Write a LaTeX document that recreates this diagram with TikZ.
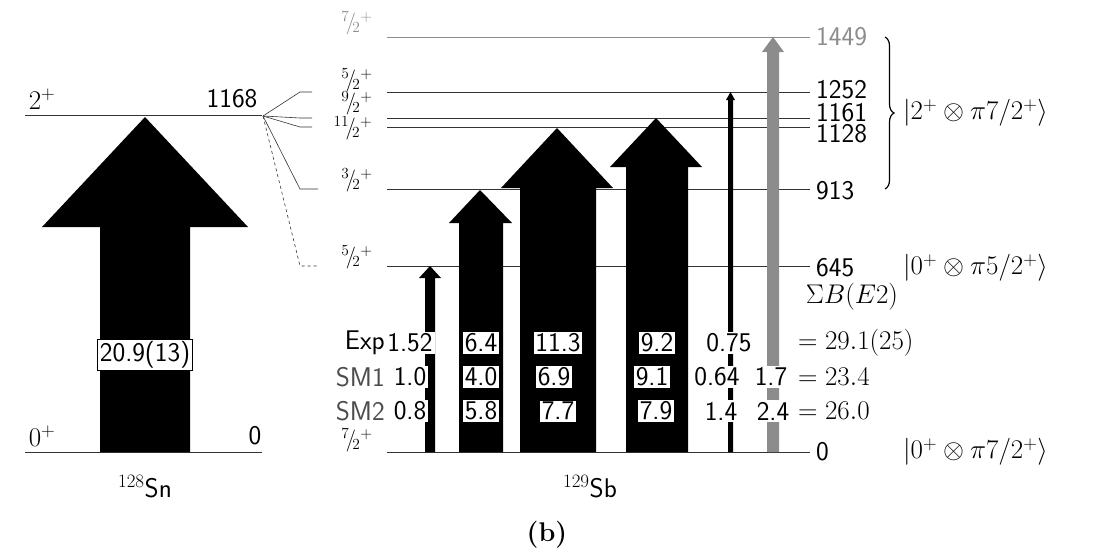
\documentclass[tikz,border=0pt]{standalone}
\usepackage{fix-cm}
\usepackage{fontspec}
\usetikzlibrary{decorations.pathreplacing}
\begin{document}
\begin{tikzpicture}[x=1pt,y=-1pt,
  lvl/.style={line width=0.8pt,black!80},
  glvl/.style={line width=0.8pt,black!45},
  txt/.style={font=\fontsize{27}{30}\selectfont\sffamily,inner sep=1pt},
  mtxt/.style={font=\fontsize{27}{30}\selectfont,inner sep=1pt},
  ftxt/.style={font=\fontsize{22}{24}\selectfont,inner sep=0pt},
  val/.style={txt,fill=white,inner sep=2pt},
  fval/.style={txt,fill=white,draw=black,line width=0.8pt,inner sep=2pt},
  fan/.style={line width=0.6pt,black!80}]
\useasboundingbox (0,0) rectangle (1094,554);
% 128Sn
\draw[lvl] (25,115) coordinate (sntop) -- (262,115) coordinate (snr);
\draw[lvl] (25,452) -- (262,452);
\node[mtxt] (s2) at (42,99) {$2^{+}$};
\node[txt] (e1168) at (232,99) {1168};
\node[mtxt] (s0) at (42,436) {$0^{+}$};
\node[txt] (e0sn) at (255,436) {0};
\fill (100,452) -- (100,227) -- (42,227) -- (145,117) -- (248,227) -- (190,227) -- (190,452) -- cycle;
\node[fval] (b1) at (145,355) {20.9(13)};
\node[txt] (sn) at (145,487) {$^{128}$Sn};
% Sb levels
\draw[glvl] (387,37) -- (810,37);
\foreach \y in {92,118,127,189,266,452} \draw[lvl] (387,\y) -- (810,\y);
% fan
\coordinate (f0) at (263,116);
\draw[fan] (f0) -- (300,92) -- (312,92);
\draw[fan] (f0) -- (300,118) -- (312,118);
\draw[fan] (f0) -- (300,127) -- (312,127);
\draw[fan] (f0) -- (300,189) -- (318,189);
\draw[fan,dashed] (f0) -- (300,266) -- (318,266);
% spin labels
\newcommand{\fr}[2]{${}^{#1}\!\big/\!{}_{#2}{}^{+}$}
\node[ftxt,text=black!45] (l1449) at (357,23) {\fr{7}{2}};
\node[ftxt] (l1252) at (357,80) {\fr{5}{2}};
\node[ftxt] (l1161) at (357,103) {\fr{9}{2}};
\node[ftxt] (l1128) at (353,128) {\fr{11}{2}};
\node[ftxt] (l913) at (357,180) {\fr{3}{2}};
\node[ftxt] (l645) at (357,257) {\fr{5}{2}};
\node[ftxt] (l0) at (357,440) {\fr{7}{2}};
% energies
\node[txt,anchor=west,text=black!45] (e1449) at (815,37) {1449};
\node[txt,anchor=west] (e1252) at (815,90) {1252};
\node[txt,anchor=west] (e1161) at (815,113) {1161};
\node[txt,anchor=west] (e1128) at (815,134) {1128};
\node[txt,anchor=west] (e913) at (815,191) {913};
\node[txt,anchor=west] (e645) at (815,268) {645};
\node[txt,anchor=west] (e0) at (815,452) {0};
% arrows
\fill (425,452) -- (425,278) -- (419,278) -- (430,266) -- (441,278) -- (435,278) -- (435,452) -- cycle;
\fill (459,452) -- (459,223) -- (449,223) -- (480,190) -- (512,223) -- (503,223) -- (503,452) -- cycle;
\fill (520,452) -- (520,188) -- (501,188) -- (557,128) -- (613,188) -- (596,188) -- (596,452) -- cycle;
\fill (626,452) -- (626,167) -- (610,167) -- (656,118) -- (702,167) -- (688,167) -- (688,452) -- cycle;
\fill (728,452) -- (728,100) -- (726,100) -- (730.5,92) -- (735,100) -- (733,100) -- (733,452) -- cycle;
\fill[black!45] (767,452) -- (767,52) -- (762,52) -- (773,37) -- (784,52) -- (779,52) -- (779,452) -- cycle;
% table
\node[txt,anchor=east] (rexp) at (386,343) {Exp};
\node[txt,anchor=east,text=black!70] (rsm1) at (386,377) {SM1};
\node[txt,anchor=east,text=black!70] (rsm2) at (386,411) {SM2};
\node[val] (a1) at (410,343) {1.52};
\node[val] (a2) at (481,343) {6.4};
\node[fval] (a3) at (558,343) {11.3};
\node[fval] (a4) at (657,343) {9.2};
\node[val] (a5) at (729,343) {0.75};
\node[val] (b1a) at (410,377) {1.0};
\node[val] (b2) at (481,377) {4.0};
\node[fval] (b3) at (554,377) {6.9};
\node[fval] (b4) at (652,377) {9.1};
\node[val] (b5) at (717,377) {0.64};
\node[val] (b6) at (771,377) {1.7};
\node[val] (c1) at (410,411) {0.8};
\node[val] (c2) at (481,411) {5.8};
\node[fval] (c3) at (558,411) {7.7};
\node[fval] (c4) at (656,411) {7.9};
\node[val] (c5) at (721,411) {1.4};
\node[val] (c6) at (773,411) {2.4};
\node[mtxt,anchor=west] (sexp) at (797,343) {$=29.1(25)$};
\node[mtxt,anchor=west] (ssm1) at (797,377) {$=23.4$};
\node[mtxt,anchor=west] (ssm2) at (797,411) {$=26.0$};
\node[mtxt] (sb) at (852,297) {$\Sigma B(E2)$};
% brace
\draw[line width=1.2pt,decorate,decoration={brace,amplitude=9pt}] (885,37) -- (885,189);
\node[mtxt,anchor=west] (k1) at (902,113) {$|2^{+}\otimes\pi7/2^{+}\rangle$};
\node[mtxt,anchor=west] (k2) at (902,268) {$|0^{+}\otimes\pi5/2^{+}\rangle$};
\node[mtxt,anchor=west] (k3) at (902,452) {$|0^{+}\otimes\pi7/2^{+}\rangle$};
\node[txt] (sbl) at (590,487) {$^{129}$Sb};
\node[mtxt] (cap) at (547,535) {\textbf{(b)}};
\end{tikzpicture}
\end{document}
